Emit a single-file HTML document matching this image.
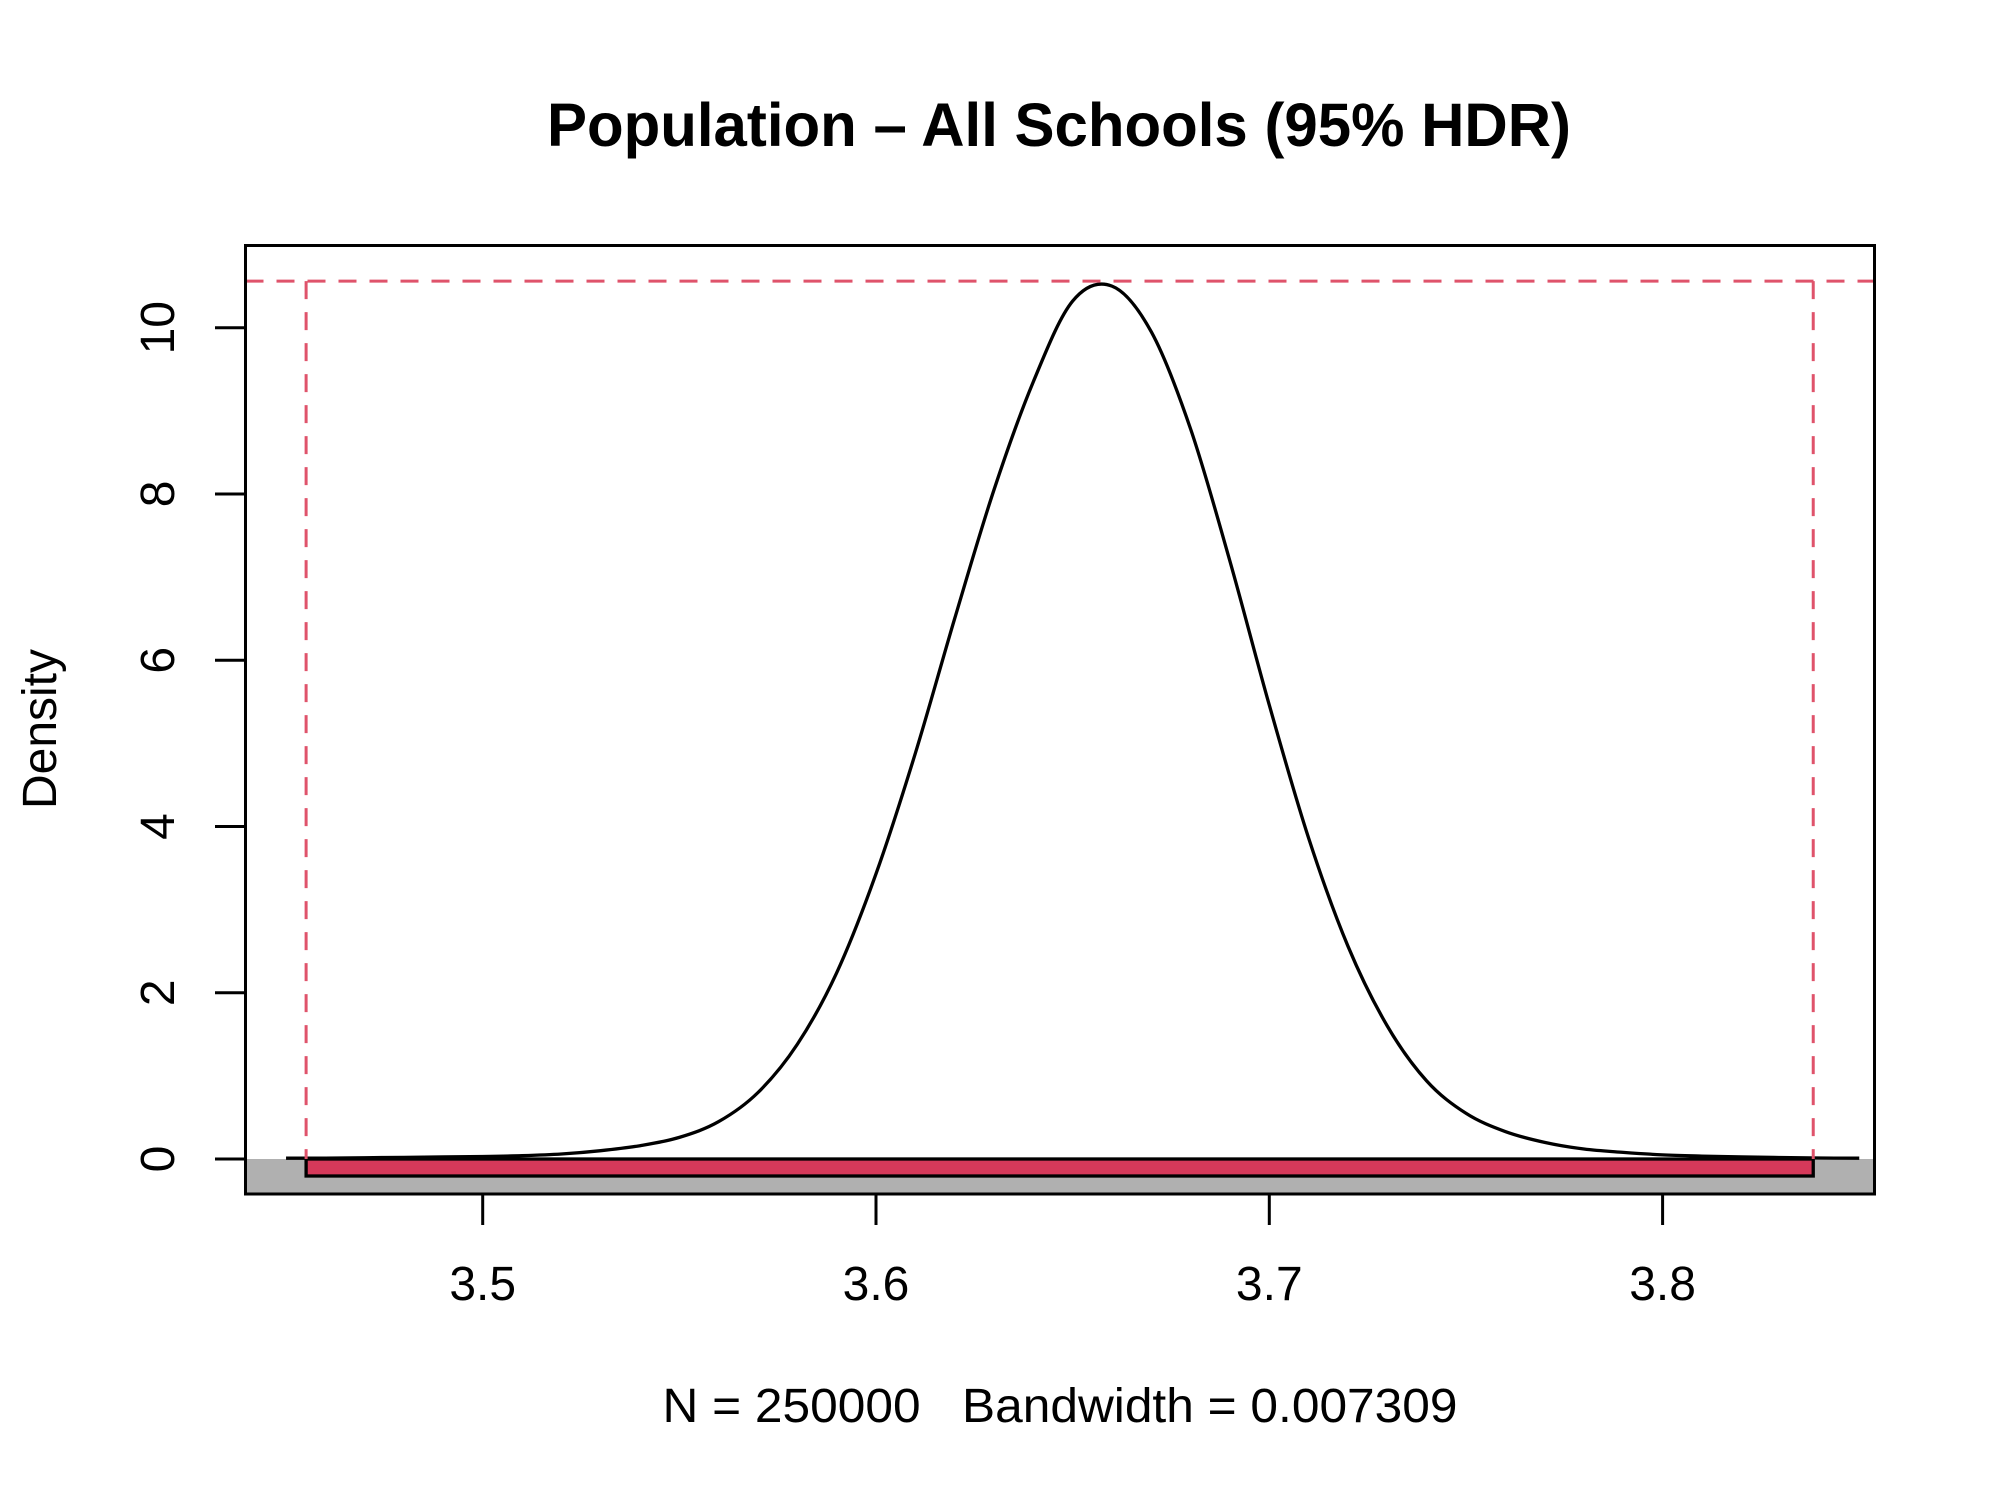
<!DOCTYPE html>
<html><head><meta charset="utf-8"><style>html,body{margin:0;padding:0;background:#fff}svg{display:block}text{font-family:"Liberation Sans",Arial,sans-serif;fill:#000;white-space:pre}</style></head>
<body>
<svg id="chart" width="2000" height="1500" viewBox="0 0 2000 1500" xmlns="http://www.w3.org/2000/svg">
<text x="1059" y="146" font-size="61" font-weight="bold" text-anchor="middle" textLength="1024" lengthAdjust="spacingAndGlyphs">Population – All Schools (95% HDR)</text>
<text xml:space="preserve" x="1060" y="1422" font-size="48" text-anchor="middle" textLength="795" lengthAdjust="spacingAndGlyphs">N = 250000   Bandwidth = 0.007309</text>
<text transform="translate(56,729) rotate(-90)" font-size="48" text-anchor="middle">Density</text>
<defs><clipPath id="plotclip"><rect x="245.5" y="245.5" width="1629" height="948.5"/></clipPath></defs>
<g id="marks" clip-path="url(#plotclip)"></g>
<g id="axes"></g>
<rect x="245.5" y="245.5" width="1629" height="948.5" fill="none" stroke="#000" stroke-width="3"/>
</svg>
<script>
const xTicks = [3.5, 3.6, 3.7, 3.8];
const xTickLabels = ["3.5", "3.6", "3.7", "3.8"];
const yTicks = [0, 2, 4, 6, 8, 10];
const yTickLabels = ["0", "2", "4", "6", "8", "10"];
const densityX = [3.45,3.46,3.47,3.48,3.49,3.50,3.51,3.52,3.53,3.54,3.55,3.56,3.57,3.58,3.59,3.60,3.61,3.62,3.63,3.64,3.65,3.66,3.67,3.68,3.69,3.70,3.71,3.72,3.73,3.74,3.75,3.76,3.77,3.78,3.79,3.80,3.81,3.82,3.83,3.84,3.85];
const densityY = [0.01,0.01,0.015,0.02,0.025,0.03,0.04,0.06,0.10,0.16,0.26,0.45,0.80,1.38,2.24,3.43,4.88,6.50,8.05,9.35,10.32,10.50,9.95,8.78,7.19,5.46,3.86,2.56,1.60,0.94,0.55,0.33,0.20,0.12,0.08,0.05,0.035,0.025,0.018,0.012,0.01];
const hdrLower = [3.4551];
const hdrUpper = [3.8383];
const hdrDensity = [10.56];

const NS = "http://www.w3.org/2000/svg";
const px0 = 482.7, pxPer = 3933;
function xs(v){ return px0 + (v - 3.5) * pxPer; }
function ys(v){ return 1159 - v * 83.13; }
const marks = document.getElementById('marks');
const axes = document.getElementById('axes');
function mk(tag, attrs, parent){ const e = document.createElementNS(NS, tag); for (const k in attrs) e.setAttribute(k, attrs[k]); parent.appendChild(e); return e; }

const band = mk('rect', {x:245.5, y:ys(0), width:1629, height:1194-ys(0), fill:'#b0b0b0'}, marks);



const P = densityX.map((x,i)=>[xs(x), ys(densityY[i])]);
let d = 'M' + P[0][0] + ',' + P[0][1];
for (let i=0;i<P.length-1;i++){
  const p0=P[Math.max(0,i-1)], p1=P[i], p2=P[i+1], p3=P[Math.min(P.length-1,i+2)];
  const c1=[p1[0]+(p2[0]-p0[0])/6, p1[1]+(p2[1]-p0[1])/6];
  const c2=[p2[0]-(p3[0]-p1[0])/6, p2[1]-(p3[1]-p1[1])/6];
  d += ' C'+c1[0]+','+c1[1]+' '+c2[0]+','+c2[1]+' '+p2[0]+','+p2[1];
}
const curve = mk('path', {d:d, fill:'none', stroke:'#000', 'stroke-width':3.3}, marks);



const bar = mk('rect', {x:xs(hdrLower[0]), y:ys(0), width:xs(hdrUpper[0])-xs(hdrLower[0]), height:17, fill:'#d5395a', stroke:'#000', 'stroke-width':3.3}, marks);



const dash = {stroke:'#DF536B', 'stroke-width':3, 'stroke-dasharray':'18,13', fill:'none'};
const hl = mk('line', Object.assign({x1:245.5, x2:1874.5, y1:ys(hdrDensity[0]), y2:ys(hdrDensity[0])}, dash), marks);


[hdrLower[0], hdrUpper[0]].forEach((v,i)=>{
  const l = mk('line', Object.assign({x1:xs(v), x2:xs(v), y1:ys(hdrDensity[0]), y2:ys(0)}, dash), marks);
  
  
});

xTicks.forEach((v,i)=>{
  const t = mk('line', {x1:xs(v), x2:xs(v), y1:1194, y2:1225, stroke:'#000', 'stroke-width':3}, axes);
  
  
  const tx = mk('text', {x:xs(v), y:1300, 'font-size':48, 'text-anchor':'middle'}, axes);
  tx.textContent = xTickLabels[i];
  
  
});
yTicks.forEach((v,i)=>{
  const t = mk('line', {x1:215, x2:245.5, y1:ys(v), y2:ys(v), stroke:'#000', 'stroke-width':3}, axes);
  
  
  const tx = mk('text', {transform:'translate(174,'+ys(v)+') rotate(-90)', 'font-size':48, 'text-anchor':'middle'}, axes);
  tx.textContent = yTickLabels[i];
  
  
});
</script>
</body></html>
